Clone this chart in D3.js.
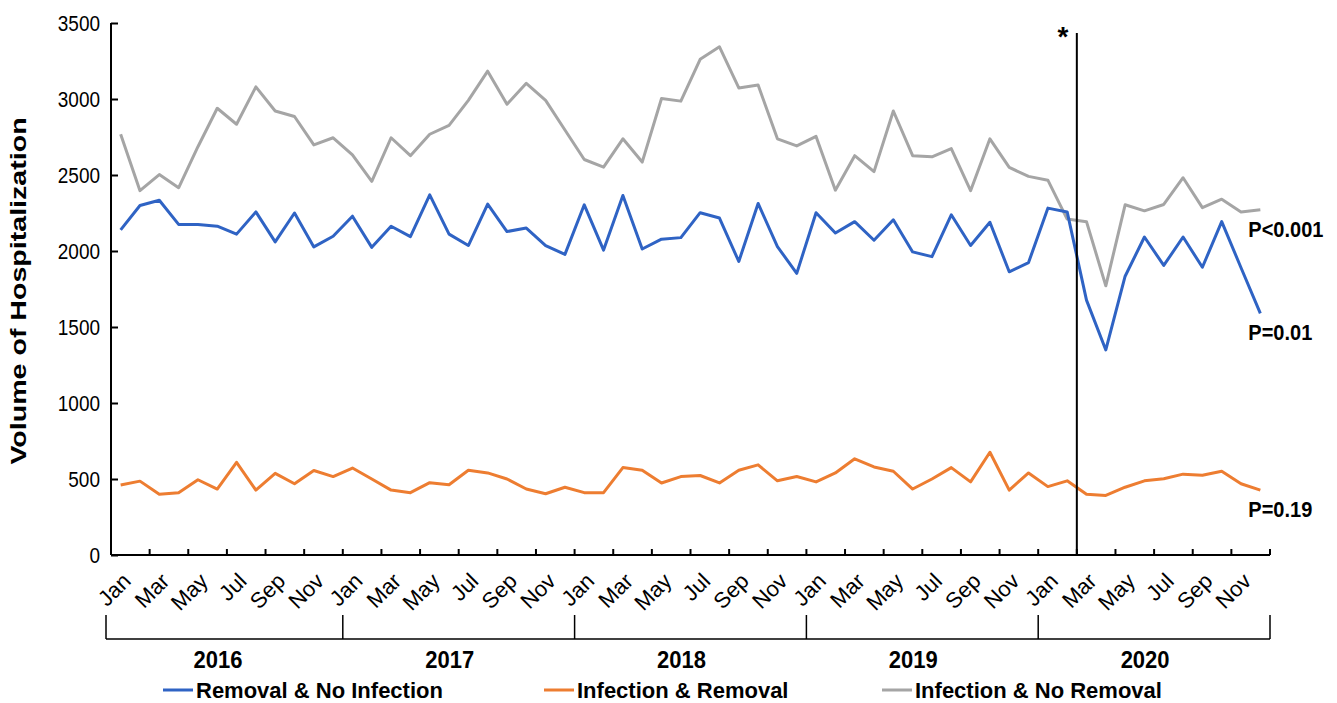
<!DOCTYPE html>
<html>
<head>
<meta charset="utf-8">
<script src="https://cdn.jsdelivr.net/npm/d3@7"></script>
<style>
  html, body { margin: 0; padding: 0; background: #fff; }
  svg { display: block; font-family: "Liberation Sans", Arial, sans-serif; }
</style>
</head>
<body>
<svg id="chart" width="1337" height="703"></svg>
<script>
// ---- data ----
const years = ["2016", "2017", "2018", "2019", "2020"];
const monthNames = ["Jan","Feb","Mar","Apr","May","Jun","Jul","Aug","Sep","Oct","Nov","Dec"];
const yTicks = [0, 500, 1000, 1500, 2000, 2500, 3000, 3500];

const removalNoInfection = [
  2139, 2299, 2334, 2175, 2175, 2163, 2111, 2257, 2060, 2250, 2027, 2097,
  2229, 2024, 2163, 2095, 2369, 2111, 2036, 2308, 2128, 2151, 2036, 1978,
  2304, 2006, 2365, 2013, 2078, 2088, 2252, 2217, 1931, 2313, 2029, 1853,
  2252, 2118, 2193, 2071, 2205, 1994, 1963, 2238, 2036, 2189, 1863, 1924,
  2282, 2257, 1677, 1349, 1834, 2092, 1905, 2092, 1893, 2193, 1890, 1590
];
const infectionRemoval = [
  460, 486, 399, 410, 495, 434, 610, 427, 537, 469, 556, 516,
  572, 500, 427, 410, 476, 462, 558, 540, 500, 434, 403, 446,
  410, 410, 575, 558, 474, 516, 523, 474, 558, 593, 488, 516,
  481, 540, 633, 579, 551, 434, 500, 575, 481, 676, 427, 540,
  450, 488, 399, 392, 446, 488, 502, 532, 525, 551, 469, 427
];
const infectionNoRemoval = [
  2768, 2397, 2503, 2416, 2686, 2939, 2834, 3080, 2921, 2885, 2698, 2745,
  2632, 2458, 2745, 2627, 2768, 2827, 2991, 3183, 2965, 3103, 2991, 2796,
  2602, 2552, 2738, 2585, 3003, 2986, 3261, 3343, 3073, 3092, 2738, 2691,
  2754, 2400, 2627, 2522, 2921, 2627, 2620, 2674, 2397, 2738, 2550, 2491,
  2466, 2210, 2193, 1771, 2304, 2264, 2306, 2482, 2285, 2341, 2257, 2271
];
const seriesNames = ["Removal & No Infection", "Infection & Removal", "Infection & No Removal"];
const seriesColors = ["#2F63C4", "#ED7D31", "#A5A5A5"];
const pLabels = ["P=0.01", "P=0.19", "P<0.001"];
const interventionIndex = 50; // Mar 2020
const interventionMark = "*";
const yTitle = "Volume of Hospitalization";

// ---- build ----
const categories = [];
years.forEach(yr => monthNames.forEach(m => categories.push(yr + "-" + m)));
const seriesData = [removalNoInfection, infectionRemoval, infectionNoRemoval];

const svg = d3.select("#chart");
const mLeft = 111, mRight = 1270, mTop = 23, mBottom = 555;
const stretch = 1.2; // glyphs in the reference are vertically stretched

const x = d3.scaleBand().domain(categories).range([mLeft, mRight]).paddingInner(0).paddingOuter(0);
const y = d3.scaleLinear().domain([0, 3500]).range([mBottom, mTop]);
const cx = c => x(c) + x.bandwidth() / 2;

// y axis
const yAxis = d3.axisRight(y).tickValues(yTicks).tickSize(7).tickFormat(d3.format("d"));
const gy = svg.append("g").attr("transform", `translate(${mLeft},0)`).call(yAxis);
gy.select(".domain").attr("stroke", "#000").attr("stroke-width", 2).attr("d", `M0,${mTop}V${mBottom}`);
gy.selectAll(".tick line").attr("stroke", "#000").attr("stroke-width", 2);
gy.selectAll(".tick text")
  .attr("x", null).attr("dy", null)
  .attr("transform", `translate(-11,0) scale(1,${stretch})`)
  .attr("y", 0).attr("dy", "0.35em")
  .attr("text-anchor", "end")
  .attr("font-size", 19).attr("fill", "#000")
  .attr("font-family", "Liberation Sans, Arial, sans-serif");

// x axis (ticks between every second category, pointing inward)
const tickCats = categories.filter((c, i) => i % 2 === 0 && i > 0);
const gx = svg.append("g").attr("transform", `translate(0,${mBottom})`);
gx.append("line").attr("x1", mLeft).attr("x2", mRight).attr("y1", 0).attr("y2", 0)
  .attr("stroke", "#000").attr("stroke-width", 2);
gx.selectAll("line.tk").data(tickCats.concat(["__end"])).join("line").attr("class", "tk")
  .attr("x1", d => d === "__end" ? mRight : x(d))
  .attr("x2", d => d === "__end" ? mRight : x(d))
  .attr("y1", 0).attr("y2", -6).attr("stroke", "#000").attr("stroke-width", 2);

// month labels
const labelCats = categories.filter((c, i) => i % 2 === 0);
svg.append("g").selectAll("text").data(labelCats).join("text")
  .attr("transform", d => `translate(${cx(d) + 6},${mBottom + 22}) rotate(-45)`)
  .attr("text-anchor", "end").attr("dy", "0.35em")
  .attr("font-size", 22).attr("fill", "#000")
  .text(d => d.split("-")[1]);

// year bracket
const bracketY = 639, bracketTop = 615;
const yearBounds = years.map((yr, i) => x(categories[i * 12]));
yearBounds.push(mRight);
const gb = svg.append("g");
gb.append("line").attr("x1", yearBounds[0] - 5).attr("x2", mRight).attr("y1", bracketY).attr("y2", bracketY)
  .attr("stroke", "#000").attr("stroke-width", 1.5);
gb.selectAll("line.yt").data(yearBounds).join("line").attr("class", "yt")
  .attr("x1", (d, i) => i === 0 ? d - 5 : d).attr("x2", (d, i) => i === 0 ? d - 5 : d)
  .attr("y1", bracketTop).attr("y2", bracketY).attr("stroke", "#000").attr("stroke-width", 1.5);
gb.selectAll("text").data(years).join("text")
  .attr("transform", (d, i) => `translate(${(yearBounds[i] + yearBounds[i + 1]) / 2 - 9},660) scale(1,1.1)`)
  .attr("dy", "0.35em").attr("text-anchor", "middle")
  .attr("font-size", 22).attr("font-weight", "bold").attr("fill", "#000")
  .text(d => d);

// lines
const line = d3.line().x((d, i) => cx(categories[i])).y(d => y(d));
[2, 1, 0].forEach(k => {
  svg.append("path").datum(seriesData[k]).attr("d", line)
    .attr("fill", "none").attr("stroke", seriesColors[k]).attr("stroke-width", 3)
    .attr("stroke-linejoin", "round");
});

// intervention line
const vx = x(categories[interventionIndex]);
svg.append("line").attr("x1", vx).attr("x2", vx).attr("y1", 33).attr("y2", mBottom)
  .attr("stroke", "#000").attr("stroke-width", 2);
svg.append("text").attr("x", vx - 14).attr("y", 46)
  .attr("text-anchor", "middle").attr("font-size", 28).attr("font-weight", "bold").attr("fill", "#000")
  .text(interventionMark);

// P labels
const lastCat = categories[categories.length - 1];
seriesData.forEach((s, k) => {
  svg.append("text")
    .attr("transform", `translate(${cx(lastCat) - 12},${y(s[s.length - 1]) + 19}) scale(1,1.1)`)
    .attr("dy", "0.35em").attr("font-size", 20).attr("font-weight", "bold").attr("fill", "#000")
    .text(pLabels[k]);
});

// y title
svg.append("text").attr("transform", `translate(18,291) scale(1,1.3) rotate(-90)`)
  .attr("text-anchor", "middle").attr("dy", "0.35em")
  .attr("font-size", 22).attr("font-weight", "bold").attr("fill", "#000")
  .text(yTitle);

// legend
const legendX = [163, 544, 882];
const lg = svg.append("g").selectAll("g").data(seriesNames).join("g")
  .attr("transform", (d, i) => `translate(${legendX[i]},690)`);
lg.append("line").attr("x1", 0).attr("x2", 30).attr("y1", 0).attr("y2", 0)
  .attr("stroke", (d, i) => seriesColors[i]).attr("stroke-width", 3);
lg.append("text").attr("x", 33).attr("dy", "0.35em")
  .attr("font-size", 22).attr("font-weight", "bold").attr("fill", "#000")
  .text(d => d);
</script>
</body>
</html>
